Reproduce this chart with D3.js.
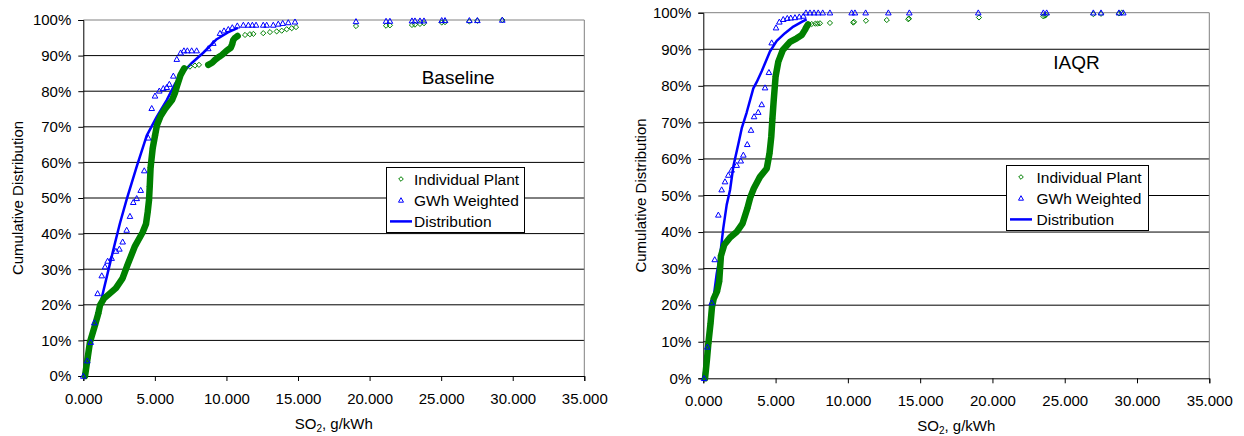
<!DOCTYPE html>
<html><head><meta charset="utf-8">
<script src="https://cdn.jsdelivr.net/npm/d3@7"></script>
<style>
body{margin:0;background:#fff}
svg{display:block}
text{font-family:"Liberation Sans",Arial,sans-serif;fill:#000}
</style>
</head><body>
<svg id="chart" width="1244" height="436"></svg>
<script>
// ---------- shared labels / ticks ----------
const xTicks = [0, 5, 10, 15, 20, 25, 30, 35];
const yTicks = [0, 10, 20, 30, 40, 50, 60, 70, 80, 90, 100];
const legendLabels = ["Individual Plant", "GWh Weighted", "Distribution"];
const yTitle = "Cumulative Distribution";
const chartTitles = ["Baseline", "IAQR"];

// ---------- Baseline data (SO2 g/kWh, cumulative %) ----------
const baseIndivRun1 = [[0.12,0],[0.30,5],[0.47,9.6],[0.82,14.3],[1.05,17.6],[1.17,19.9],[1.45,21.8],[1.80,23.0],[2.28,24.7],[2.74,27.4],[3.09,31.2],[3.61,36.5],[4.14,40.3],[4.38,42.7],[4.50,46.1],[4.59,49.4],[4.64,53.2],[4.70,58.5],[4.85,64.0],[5.01,67.5],[5.15,70.5],[5.40,73.0],[5.71,75.0],[6.20,77.5],[6.40,79.5],[6.55,81.5],[6.80,84.6],[7.05,86.4]];
const baseIndivRun2 = [[8.73,87.4],[9.00,88.0],[9.20,88.8],[9.50,89.7],[9.69,90.2],[10.02,91.4],[10.30,92.2],[10.40,93.2],[10.48,94.4],[10.60,95.0],[10.78,95.5]];
const baseIndivScatter = [[7.45,86.9],[7.80,87.2],[8.08,87.4],[11.30,95.8],[11.64,96.0],[11.88,96.1],[12.57,96.3],[13.04,96.6],[13.51,96.8],[13.86,97.0],[14.21,97.4],[14.56,97.7],[14.86,98.0],[19.05,98.3],[21.15,98.4],[21.42,98.5],[22.96,98.6],[23.17,98.7],[23.52,98.9],[23.80,99.1],[25.04,99.3],[25.27,99.4],[26.97,99.6],[27.53,99.8],[29.27,100]];
const baseGWh = [[0,0],[0.28,4.3],[0.52,9.5],[0.77,15.0],[1.00,23.2],[1.29,28.2],[1.52,30.7],[1.70,32.3],[1.98,33.1],[2.28,35.1],[2.52,35.7],[2.75,37.7],[3.03,41.0],[3.26,44.9],[3.49,48.8],[3.73,49.9],[4.01,52.2],[4.26,57.7],[4.54,66.9],[4.78,75.2],[5.01,78.7],[5.31,80.1],[5.59,80.8],[5.83,81.1],[6.01,82.0],[6.29,84.3],[6.53,89.0],[6.80,90.8],[7.03,91.4],[7.27,91.4],[7.57,91.4],[7.92,91.4],[8.73,92.0],[9.08,93.5],[9.55,96.3],[9.83,97.0],[10.13,97.4],[10.41,97.9],[10.76,98.4],[11.18,98.6],[11.53,98.6],[11.81,98.6],[12.07,98.6],[12.57,98.6],[12.81,98.6],[13.27,98.6],[13.62,98.9],[13.93,99.1],[14.32,99.3],[14.79,99.5],[19.05,99.6],[21.15,99.7],[21.42,99.7],[22.96,99.8],[23.17,99.8],[23.52,99.8],[23.80,99.8],[25.04,99.9],[25.27,99.9],[26.97,99.9],[27.53,99.9],[29.27,100]];
const baseDist = [[0,0],[0.55,10],[1.0,17],[1.29,22],[1.87,31.7],[2.21,37.3],[2.56,42.9],[3.03,49.6],[3.73,58.8],[4.43,67.5],[5.13,72.8],[5.83,77.5],[6.4,82],[7.0,85.5],[7.6,88],[8.38,90.8],[9.32,94.6],[10.1,96.5],[10.8,97.8]];

// ---------- IAQR data ----------
const iaqrIndivRun1 = [[0.12,0],[0.25,5],[0.35,9.5],[0.50,15],[0.60,19.5],[0.72,21.8],[0.95,23.8],[1.10,26.5],[1.16,30],[1.22,33.5],[1.45,36.5],[1.85,38.5],[2.30,40.0],[2.72,42.4],[3.05,46.5],[3.25,49.5],[3.50,52],[3.92,55.1],[4.39,57.4],[4.58,61.5],[4.70,66],[4.78,71],[4.87,76],[5.00,82.5],[5.19,86.6],[5.50,89.8],[6.00,92.0],[6.46,93.0],[6.81,93.9],[7.03,95.3],[7.15,96.2],[7.25,96.8]];
const iaqrIndivScatter = [[7.50,96.9],[7.75,97.0],[7.90,97.0],[8.07,97.1],[8.76,97.2],[10.37,97.3],[10.42,97.5],[11.25,97.8],[12.69,98.0],[14.18,98.2],[14.22,98.4],[19.07,98.7],[23.52,99.0],[23.62,99.2],[23.70,99.4],[26.98,99.6],[27.51,99.7],[28.75,99.8],[28.94,100]];
const iaqrGWh = [[0.05,0],[0.28,8.6],[0.58,20.7],[0.79,32.5],[1.04,44.7],[1.27,51.6],[1.50,53.8],[1.73,55.6],[1.96,57.0],[2.31,58.3],[2.59,59.5],[2.77,61.1],[3.04,64.0],[3.30,67.9],[3.51,71.6],[3.80,72.8],[4.04,74.9],[4.27,79.5],[4.54,83.7],[4.73,91.8],[5.03,95.9],[5.26,97.5],[5.53,98.2],[5.81,98.5],[6.05,98.6],[6.34,98.7],[6.64,98.9],[6.92,99.1],[7.10,100],[7.38,100],[7.66,100],[7.95,100],[8.26,100],[8.76,100],[10.26,100],[10.49,100],[11.23,100],[12.80,100],[14.25,100],[19.02,100],[23.52,100],[23.75,100],[26.98,100],[27.51,100],[28.75,100],[29.05,100]];
const iaqrDist = [[0,0],[0.28,8.6],[0.69,21.4],[0.93,28.7],[1.16,33.5],[1.38,41],[1.62,47.5],[1.85,51.5],[2.08,58],[2.42,64],[2.66,68.4],[3.0,72.7],[3.46,79.3],[3.69,81],[4.04,84],[4.61,89.4],[5.08,92.3],[5.65,94.4],[6.23,96.2],[6.81,97.5],[7.15,98.2]];

// ---------- drawing ----------
const svg = d3.select("#chart");
const GREEN = "#008000", BLUE = "#0000FF";

function diamond(sel, r) {
  return sel.attr("d", `M0,${-r}L${r},0L0,${r}L${-r},0Z`);
}
function triangle(sel, r) {
  return sel.attr("d", `M0,${-r}L${r},${r*0.8}L${-r},${r*0.8}Z`);
}

function drawChart(cfg) {
  const g = svg.append("g");
  const x = d3.scaleLinear().domain([0, 35]).range([cfg.left, cfg.right]);
  const y = d3.scaleLinear().domain([0, 100]).range([cfg.bottom, cfg.top]);

  // gridlines
  g.append("g").selectAll("line").data(yTicks.filter(d => d > 0 && d < 100)).join("line")
    .attr("x1", cfg.left).attr("x2", cfg.right)
    .attr("y1", d => y(d)).attr("y2", d => y(d))
    .attr("stroke", "#000").attr("stroke-width", 1);
  // plot border (top/right)
  g.append("path")
    .attr("d", `M${cfg.left},${cfg.top}H${cfg.right}V${cfg.bottom}`)
    .attr("fill", "none").attr("stroke", "#808080").attr("stroke-width", 1);

  // axes
  const xAxis = d3.axisBottom(x).tickValues(xTicks).tickSize(5).tickFormat(d3.format(".3f"));
  const yAxis = d3.axisLeft(y).tickValues(yTicks).tickSize(5).tickFormat(d => d + "%");
  const gx = g.append("g").attr("transform", `translate(0,${cfg.bottom})`).call(xAxis);
  const gy = g.append("g").attr("transform", `translate(${cfg.left},0)`).call(yAxis);
  [gx, gy].forEach(a => {
    a.select(".domain").attr("stroke", "#000");
    a.selectAll(".tick line").attr("stroke", "#000");
    a.selectAll(".tick text").attr("font-size", 15).attr("font-family", "Liberation Sans, Arial, sans-serif").attr("fill", "#000");
  });
  gx.selectAll(".tick text").attr("dy", null).attr("y", 28);
  gy.selectAll(".tick text").attr("x", -12);

  // axis titles
  const xt = g.append("text").attr("x", (cfg.left + cfg.right) / 2).attr("y", cfg.xTitleY)
    .attr("text-anchor", "middle").attr("font-size", 15);
  xt.append("tspan").text("SO");
  xt.append("tspan").text("2").attr("font-size", 10).attr("dy", 3);
  xt.append("tspan").text(", g/kWh").attr("dy", -3);
  g.append("text").attr("transform", `translate(${cfg.yTitleX},${(cfg.top + cfg.bottom) / 2}) rotate(-90)`)
    .attr("text-anchor", "middle").attr("font-size", 15).text(yTitle);

  // chart label
  g.append("text").attr("x", cfg.titleX).attr("y", cfg.titleY).attr("font-size", 19).text(cfg.title);

  // Distribution line
  const line = d3.line().x(d => x(d[0])).y(d => y(d[1]));
  g.append("path").datum(cfg.dist).attr("d", line)
    .attr("fill", "none").attr("stroke", BLUE).attr("stroke-width", 2.5).attr("stroke-linejoin", "round");

  // Individual plant: dense runs of overlapping markers
  cfg.runs.forEach(run => {
    g.append("path").datum(run).attr("d", line)
      .attr("fill", "none").attr("stroke", GREEN).attr("stroke-width", 6.5)
      .attr("stroke-linejoin", "round").attr("stroke-linecap", "round");
  });
  const allIndiv = cfg.runs.flat().concat(cfg.scatter);
  g.append("g").selectAll("path").data(allIndiv).join("path")
    .call(diamond, 2.6)
    .attr("transform", d => `translate(${x(d[0])},${y(d[1])})`)
    .attr("fill", "none").attr("stroke", GREEN).attr("stroke-width", 1);

  // GWh weighted triangles
  g.append("g").selectAll("path").data(cfg.gwh).join("path")
    .call(triangle, 2.8)
    .attr("transform", d => `translate(${x(d[0])},${y(d[1])})`)
    .attr("fill", "none").attr("stroke", BLUE).attr("stroke-width", 1);

  // legend
  const lg = g.append("g").attr("transform", `translate(${cfg.legX},${cfg.legY})`);
  lg.append("rect").attr("x", 0.5).attr("y", 0.5).attr("width", cfg.legW).attr("height", 65)
    .attr("fill", "#fff").attr("stroke", "#000").attr("stroke-width", 1);
  legendLabels.forEach((lab, i) => {
    const cy = 12 + i * 21.2;
    if (i === 0) lg.append("path").call(diamond, 2.3).attr("transform", `translate(15,${cy})`)
      .attr("fill", "none").attr("stroke", GREEN);
    if (i === 1) lg.append("path").call(triangle, 2.5).attr("transform", `translate(15,${cy})`)
      .attr("fill", "none").attr("stroke", BLUE);
    if (i === 2) lg.append("line").attr("x1", 4).attr("x2", 26).attr("y1", cy).attr("y2", cy)
      .attr("stroke", BLUE).attr("stroke-width", 2.5);
    lg.append("text").attr("x", cfg.legTextX).attr("y", cy + 5.5).attr("font-size", 15.5).text(lab);
  });
}

drawChart({
  title: chartTitles[0], left: 83.3, right: 584.3, top: 20, bottom: 376,
  titleX: 421.7, titleY: 83.5, xTitleY: 429, yTitleX: 22.5,
  legX: 386, legY: 167, legW: 138, legTextX: 28,
  runs: [baseIndivRun1, baseIndivRun2], scatter: baseIndivScatter, gwh: baseGWh, dist: baseDist
});
drawChart({
  title: chartTitles[1], left: 703.3, right: 1209.3, top: 12.7, bottom: 378.3,
  titleX: 1053.3, titleY: 69.3, xTitleY: 431, yTitleX: 646,
  legX: 1006, legY: 165, legW: 142, legTextX: 30.5,
  runs: [iaqrIndivRun1], scatter: iaqrIndivScatter, gwh: iaqrGWh, dist: iaqrDist
});
</script>
</body></html>
